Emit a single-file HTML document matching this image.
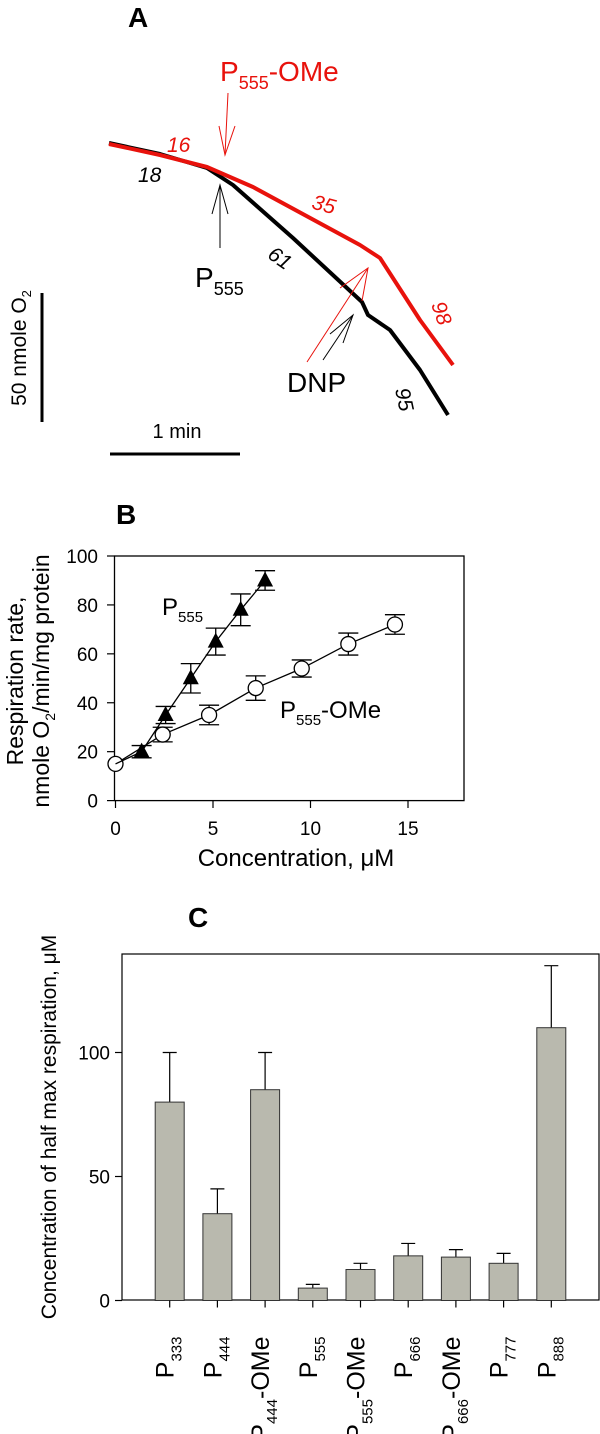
<!DOCTYPE html>
<html><head><meta charset="utf-8"><style>
body{margin:0;background:#fff;}
svg{display:block;font-family:"Liberation Sans",Arial,sans-serif;}
</style></head><body>
<svg id="fig" width="600" height="1434" viewBox="0 0 600 1434">
<!-- Panel A -->
<g>
<text x="128" y="27" font-size="28" font-weight="bold">A</text>
<polyline fill="none" stroke="#000" stroke-width="4" stroke-linejoin="round" points="109,143 160,154 207,168 233,185 293,238 362,302 368,315 390,330 420,370 448,415"/>
<polyline fill="none" stroke="#e8120c" stroke-width="4" stroke-linejoin="round" points="109,144 160,155 207,167 253,187 360,245 380,258 420,320 453,365"/>
<text x="220" y="81" font-size="28" fill="#e8120c">P<tspan font-size="18" dy="8">555</tspan><tspan dy="-8">-OMe</tspan></text>
<g stroke="#e8120c" stroke-width="1" fill="none"><line x1="228" y1="93" x2="225" y2="155"/><polyline points="219,126 225,155 235,126"/></g>
<g stroke="#000" stroke-width="1" fill="none"><line x1="220" y1="248" x2="220" y2="185"/><polyline points="212,214 220,185 228,214"/></g>
<text x="195" y="287" font-size="28">P<tspan font-size="18" dy="8">555</tspan></text>
<g stroke="#e8120c" stroke-width="1" fill="none"><line x1="307" y1="362" x2="368" y2="268"/><polyline points="340,288 368,268 362,301"/></g>
<g stroke="#000" stroke-width="1" fill="none"><line x1="323" y1="360" x2="353" y2="315"/><polyline points="330,334 353,315 343,343"/></g>
<text x="287" y="392" font-size="28">DNP</text>
<g font-size="21" font-style="italic">
<text x="167" y="152" fill="#e8120c">16</text>
<text x="138" y="182">18</text>
<text x="312" y="211" fill="#e8120c" transform="rotate(15 322 205)">35</text>
<text x="268" y="264" transform="rotate(35 278 258)">61</text>
<text x="430" y="318" fill="#e8120c" transform="rotate(70 440 312)">98</text>
<text x="393" y="404" transform="rotate(78 403 398)">95</text>
</g>
<line x1="42" y1="293" x2="42" y2="422" stroke="#000" stroke-width="3"/>
<text transform="translate(26,348) rotate(-90)" text-anchor="middle" font-size="21">50 nmole O<tspan font-size="13" dy="5">2</tspan></text>
<line x1="110" y1="454" x2="240" y2="454" stroke="#000" stroke-width="3"/>
<text x="177" y="438" text-anchor="middle" font-size="20">1 min</text>
</g>
<!-- Panel B -->
<g id="pb">
<text x="116" y="524" font-size="28" font-weight="bold">B</text>
<rect x="114.5" y="556" width="349.5" height="244.6" fill="none" stroke="#000" stroke-width="1.3"/>
<text transform="translate(23,681) rotate(-90)" text-anchor="middle" font-size="23">Respiration rate,</text>
<text transform="translate(49,681) rotate(-90)" text-anchor="middle" font-size="23">nmole O<tspan font-size="14" dy="6">2</tspan><tspan dy="-6">/min/mg protein</tspan></text>
<text x="296" y="866" text-anchor="middle" font-size="24">Concentration, μM</text>
</g>
<!-- Panel C -->
<g id="pc">
<text x="188" y="927" font-size="28" font-weight="bold">C</text>
<rect x="122" y="954" width="477" height="346" fill="none" stroke="#000" stroke-width="1.2"/>
<text transform="translate(56,1127) rotate(-90)" text-anchor="middle" font-size="21">Concentration of half max respiration, μM</text>
</g>
</svg>
<script>
// Panel B data
const bTriX = [1.34, 2.57, 3.86, 5.14, 6.42, 7.67];
const bTriY = [20, 35, 50, 65, 78, 90];
const bTriErr = [2.5, 3.5, 6, 5.5, 6.5, 4];
const bCircX = [0, 2.42, 4.8, 7.19, 9.55, 11.94, 14.33];
const bCircY = [15, 27, 35, 46, 54, 64, 72];
const bCircErr = [0, 3, 4, 5, 3.5, 4.5, 4];
const bXTicks = [0, 5, 10, 15];
const bYTicks = [0, 20, 40, 60, 80, 100];
// Panel C data
const cCats = ["333", "444", "444", "555", "555", "666", "666", "777", "888"];
const cOMe = [false, false, true, false, true, false, true, false, false];
const cVals = [80, 35, 85, 5, 12.5, 18, 17.5, 15, 110];
const cErr = [20, 10, 15, 1.5, 2.5, 5, 3, 4, 25];
const cYTicks = [0, 50, 100];

const NS = "http://www.w3.org/2000/svg";
function mk(parent, tag, attrs) {
  const e = document.createElementNS(NS, tag);
  for (const k in attrs) e.setAttribute(k, attrs[k]);
  parent.appendChild(e);
  return e;
}
// Panel B axes
const bx = v => 115.5 + v * 19.5;
const by = v => 800.6 - v * 2.446;
const pb = document.getElementById("pb");
bYTicks.forEach(t => {
  const l = mk(pb, "line", {x1: 107, x2: 114.5, y1: by(t), y2: by(t), stroke: "#000", "stroke-width": 1.2});
  
  
  const tx = mk(pb, "text", {x: 98, y: by(t) + 7, "text-anchor": "end", "font-size": 19});
  tx.textContent = t;
  
  
});
bXTicks.forEach(t => {
  const l = mk(pb, "line", {x1: bx(t), x2: bx(t), y1: 800.6, y2: 808, stroke: "#000", "stroke-width": 1.2});
  
  
  const tx = mk(pb, "text", {x: bx(t), y: 835, "text-anchor": "middle", "font-size": 19});
  tx.textContent = t;
  
  
});
function series(xs, ys, errs, kind) {
  const line = mk(pb, "polyline", {fill: "none", stroke: "#000", "stroke-width": 1.3,
    points: [[0, 15]].concat(xs.map((x, i) => [x, ys[i]])).filter((p, i) => kind === "tri" || i > 0).map(p => bx(p[0]) + "," + by(p[1])).join(" ")});
  
  
  xs.forEach((x, i) => {
    const cx = bx(x), cy = by(ys[i]);
    if (errs[i] > 0) {
      const g = mk(pb, "path", {d: `M${cx},${by(ys[i] - errs[i])}V${by(ys[i] + errs[i])}M${cx - 10},${by(ys[i] - errs[i])}h20M${cx - 10},${by(ys[i] + errs[i])}h20`, stroke: "#000", "stroke-width": 1.3, fill: "none"});
      
      
    }
    let m;
    if (kind === "tri") {
      m = mk(pb, "polygon", {points: `${cx},${cy - 9} ${cx - 8},${cy + 6} ${cx + 8},${cy + 6}`, fill: "#000"});
      
    } else {
      m = mk(pb, "circle", {cx: cx, cy: cy, r: 7.5, fill: "#fff", stroke: "#000", "stroke-width": 1.3});
      
    }
    
  });
}
series(bCircX, bCircY, bCircErr, "circ");
series(bTriX, bTriY, bTriErr, "tri");
const lb1 = mk(pb, "text", {x: 162, y: 615, "font-size": 24});
lb1.innerHTML = 'P<tspan font-size="15" dy="7">555</tspan>';


const lb2 = mk(pb, "text", {x: 280, y: 718, "font-size": 24});
lb2.innerHTML = 'P<tspan font-size="15" dy="7">555</tspan><tspan dy="-7">-OMe</tspan>';



// Panel C
const cy0 = 1300.5, cs = 2.48;
const cyf = v => cy0 - v * cs;
const cxf = i => 122 + (i + 1) * 47.7;
const pc = document.getElementById("pc");
cYTicks.forEach(t => {
  const l = mk(pc, "line", {x1: 115, x2: 122, y1: cyf(t), y2: cyf(t), stroke: "#000", "stroke-width": 1.2});
  
  
  const tx = mk(pc, "text", {x: 110, y: cyf(t) + 7, "text-anchor": "end", "font-size": 19});
  tx.textContent = t;
  
  
});
cVals.forEach((v, i) => {
  const x = cxf(i);
  const e = mk(pc, "path", {d: `M${x},${cyf(v)}V${cyf(v + cErr[i])}M${x - 7},${cyf(v + cErr[i])}h14`, stroke: "#000", "stroke-width": 1.2, fill: "none"});
  
  
  const r = mk(pc, "rect", {x: x - 14.5, y: cyf(v), width: 29, height: v * cs, fill: "#b9b9ae", stroke: "#333", "stroke-width": 1});
  
  
  const t = mk(pc, "line", {x1: x, x2: x, y1: cy0, y2: cy0 + 7, stroke: "#000", "stroke-width": 1.2});
  
  
  const lab = mk(pc, "text", {transform: `translate(${x + 4},${cy0 + 36}) rotate(-90)`, "text-anchor": "end", "font-size": 25});
  lab.innerHTML = 'P<tspan font-size="15" dy="8">' + cCats[i] + '</tspan>' + (cOMe[i] ? '<tspan dy="-8">-OMe</tspan>' : '');
  
  
});
</script>
</body></html>
